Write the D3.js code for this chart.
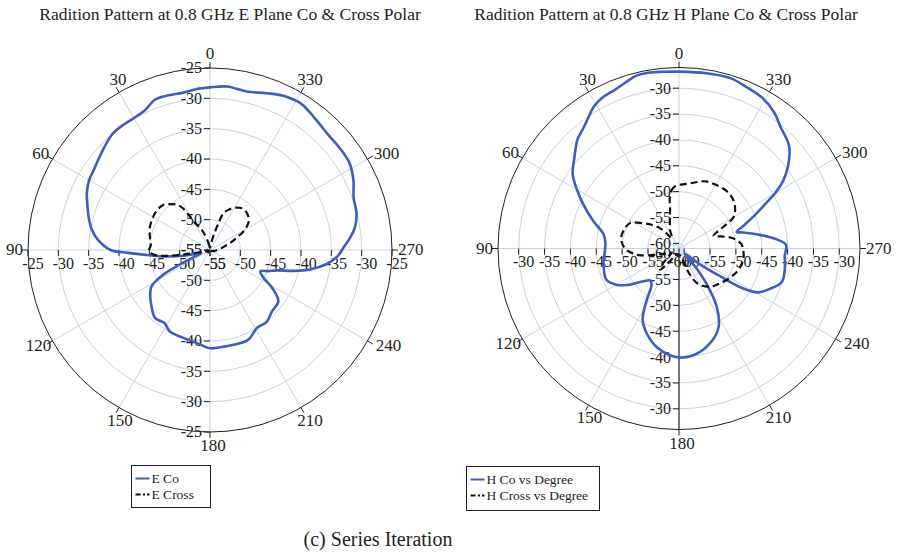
<!DOCTYPE html>
<html><head><meta charset="utf-8">
<script src="https://cdn.jsdelivr.net/npm/d3@7"></script>
<style>
body{margin:0;background:#fff}
svg{display:block}
text{font-family:"Liberation Serif","Times New Roman",serif;fill:#231f20}
</style>
</head><body>
<svg id="c" width="901" height="555"></svg>
<script>
// ---------- data ----------
const angleLabels = [0,30,60,90,120,150,180,210,240,270,300,330];
const eRadialTicks = [-25,-30,-35,-40,-45,-50,-55];
const hRadialTicks = [-30,-35,-40,-45,-50,-55,-60];

const eCoDeg = [0,5,10,15,20,25,30,35,40,45,50,55,60,65,70,75,80,85,90,92,95,98,102,106,110,113,116,118,122,128,134,141,148,154,161,172,180,187,194,203,211,218,225,233,238,243,247,250,253,256,259,263,267,271,275,279,284,290,296,302,308,314,321,328,334,340,347,354];
const eCoDb = [-28.2,-28.4,-28.7,-28.6,-28.6,-29.6,-29.9,-29.9,-30.0,-30.6,-31.2,-31.7,-32.0,-32.6,-33.5,-34.3,-35.2,-36.5,-38.6,-41.5,-45.0,-47.5,-50.5,-52.8,-53.5,-52.5,-49.0,-46.0,-43.6,-42.5,-41.6,-40.6,-40.8,-40.0,-39.9,-39.5,-38.8,-38.9,-38.9,-38.9,-40.0,-39.9,-40.6,-40.9,-42.7,-45.2,-46.0,-44.8,-43.5,-40.8,-38.2,-35.7,-34.0,-33.0,-31.8,-30.8,-30.1,-29.8,-28.7,-27.9,-27.8,-27.8,-27.3,-26.6,-26.8,-27.5,-28.2,-27.9];

const eCrDeg = [0,8,14,19,23,28,31,33,36,41,46,51,56,62,69,75,80,86,91,95,97.5,99.5,102,108,125,140,160,180,200,220,240,255,270,280,285,290,294,299,305,310,315,320,325,331,336,340,342,345,350,355];
const eCrDb = [-54.6,-54.3,-53.5,-52.3,-51.2,-50.2,-48.5,-46.8,-45.8,-45.0,-44.3,-44.1,-44.1,-44.2,-44.4,-44.7,-45.0,-45.2,-44.9,-45.8,-47.5,-50.5,-53.0,-54.3,-54.7,-54.5,-54.8,-54.6,-54.7,-54.5,-54.7,-54.3,-53.8,-53.0,-52.4,-51.3,-50.4,-48.7,-47.3,-46.7,-46.4,-46.3,-46.5,-47.1,-47.8,-48.6,-50.0,-52.0,-53.8,-54.4];

const hCoDeg = [0,5,10,14,18,22,27,31,35,39,43,49,55,60,65,72,79,85,91,98,104,113,120,125,129,134,138,141,144,148,153,159,167,175,182,190,200,207,213,218,222,226,230,233,236,238,241,246,252,260,266,272,276,280,284,286,289,293,297,300,303,307,313,320,325,331,337,343,351];
const hCoDb = [-26.8,-26.7,-26.5,-26.6,-27.3,-27.9,-28.3,-29.0,-30.3,-31.4,-32.2,-34.2,-35.9,-38.2,-40.5,-43.5,-46.1,-46.7,-46.7,-46.3,-46.0,-45.7,-47.0,-48.7,-50.4,-52.0,-52.7,-52.5,-51.9,-49.2,-45.5,-43.5,-41.5,-40.3,-39.9,-40.4,-42.1,-44.1,-47.6,-52.4,-56.5,-59.5,-59.0,-56.0,-51.5,-46.5,-43.5,-41.8,-40.1,-40.2,-40.5,-40.3,-42.5,-45.5,-48.2,-49.4,-48.0,-45.5,-42.5,-39.5,-37.0,-34.6,-31.9,-30.4,-28.9,-27.7,-27.2,-26.6,-26.7];

const hCrDeg = [0,4,7,10,13,17,21,26,31,36,40,43,49,55,62,68,73,78,83,88,92,96,100,104,108,112,120,128,134,138,142,148,160,175,188,195,199,201,204,208,216,223,230,237,244,250,257,263,269,274,278,282,286,290,293,296,300,306,312,318,324,331,338,344,350,355];
const hCrDb = [-48.7,-49.0,-49.6,-50.8,-53.3,-55.0,-56.1,-57.0,-58.3,-58.6,-57.0,-55.6,-54.0,-52.5,-50.4,-49.9,-49.7,-49.6,-49.8,-50.3,-50.9,-52.0,-53.4,-55.9,-57.5,-58.5,-59.4,-58.2,-56.5,-55.5,-56.8,-59.0,-59.8,-59.6,-59.7,-59.3,-58.3,-56.5,-54.8,-53.3,-51.9,-51.1,-50.6,-49.9,-49.3,-48.8,-48.5,-48.4,-48.6,-48.9,-49.7,-50.8,-52.5,-53.9,-53.2,-51.5,-48.8,-47.6,-46.9,-46.6,-46.6,-46.8,-47.0,-47.6,-48.2,-48.5];

const eTitle = "Radition Pattern at 0.8 GHz E Plane Co & Cross Polar";
const hTitle = "Radition Pattern at 0.8 GHz H Plane Co & Cross Polar";
const eLegend = ["E Co","E Cross"];
const hLegend = ["H Co vs Degree","H Cross vs Degree"];
const caption = "(c) Series Iteration";

// ---------- style ----------
const BLUE = "#3d5ebf", GRID = "#c6d3e4", DARK = "#231f20";
const svg = d3.select("#c");
const toRad = d => d*Math.PI/180;

function labelPos(a, R){
  const t = R + 6, x = -t*Math.sin(toRad(a)), y = -t*Math.cos(toRad(a));
  switch(a){
    case 0:   return {x:x,   y:y-3,  anchor:"middle"};
    case 30:  return {x:x+2, y:y-2,  anchor:"middle"};
    case 330: return {x:x+6, y:y-2,  anchor:"middle"};
    case 60:  return {x:x+2, y:y+3,  anchor:"end"};
    case 90:  return {x:x+1, y:y+5,  anchor:"end"};
    case 120: return {x:x+4, y:y+7,  anchor:"end"};
    case 150: return {x:x+4, y:y+13, anchor:"middle"};
    case 180: return {x:x+3, y:y+13, anchor:"middle"};
    case 210: return {x:x+6, y:y+13, anchor:"middle"};
    case 240: return {x:x+3, y:y+7,  anchor:"start"};
    case 270: return {x:x,   y:y+5,  anchor:"start"};
    default:  return {x:x+1, y:y+3,  anchor:"start"};
  }
}

function drawChart(cfg){
  const g = svg.append("g").attr("transform", `translate(${cfg.cx},${cfg.cy})`);
  const r = d3.scaleLinear().domain(cfg.domain).range([0, cfg.R]);

  // grid rings
  g.selectAll("circle.ring").data(cfg.ticks.filter(t => r(t) > 1 && r(t) < cfg.R - 1))
    .join("circle").attr("class","ring").attr("r", d => r(d))
    .attr("fill","none").attr("stroke",GRID).attr("stroke-width",1);
  // spokes
  g.selectAll("line.spoke").data(angleLabels).join("line").attr("class","spoke")
    .attr("x1",0).attr("y1",0)
    .attr("x2", d => -cfg.R*Math.sin(toRad(d)))
    .attr("y2", d => -cfg.R*Math.cos(toRad(d)))
    .attr("stroke",GRID).attr("stroke-width",1);
  if (cfg.darkLower){
    g.append("line").attr("x1",0).attr("y1",0).attr("x2",0).attr("y2",cfg.R)
      .attr("stroke","#1e2a4a").attr("stroke-width",1.2);
  }
  // outer circle
  g.append("circle").attr("r",cfg.R).attr("fill","none").attr("stroke",DARK).attr("stroke-width",1);

  // angle ticks and labels
  g.selectAll("line.atick").data(angleLabels).join("line").attr("class","atick")
    .attr("x1", d => -cfg.R*Math.sin(toRad(d))).attr("y1", d => -cfg.R*Math.cos(toRad(d)))
    .attr("x2", d => -(cfg.R+6)*Math.sin(toRad(d))).attr("y2", d => -(cfg.R+6)*Math.cos(toRad(d)))
    .attr("stroke",DARK).attr("stroke-width",1);
  g.selectAll("text.alab").data(angleLabels).join("text").attr("class","alab")
    .each(function(d){
      const p = labelPos(d, cfg.R);
      d3.select(this).attr("x",p.x).attr("y",p.y).attr("text-anchor",p.anchor);
    })
    .attr("font-size",17).text(d => d);

  // radial tick labels along the vertical axis (top & bottom)
  const vt = [];
  cfg.ticks.forEach(t => { vt.push({t, s:-1}); vt.push({t, s:1}); });
  g.selectAll("line.vtick").data(vt).join("line").attr("class","vtick")
    .attr("x1",-6).attr("x2",0).attr("y1", d => d.s*r(d.t)).attr("y2", d => d.s*r(d.t))
    .attr("stroke",DARK).attr("stroke-width",1);
  g.selectAll("text.vlab").data(vt).join("text").attr("class","vlab")
    .attr("x",-8).attr("y", d => d.s*r(d.t)).attr("dy","0.34em")
    .attr("text-anchor","end").attr("font-size",16).text(d => d.t);

  // radial tick labels along the horizontal axis (left & right)
  g.selectAll("line.htick").data(vt).join("line").attr("class","htick")
    .attr("x1", d => d.s*r(d.t)).attr("x2", d => d.s*r(d.t)).attr("y1",0).attr("y2",6)
    .attr("stroke",DARK).attr("stroke-width",1);
  g.selectAll("text.hlab").data(vt).join("text").attr("class","hlab")
    .attr("x", d => d.s*r(d.t) + 5).attr("y",18.5)
    .attr("text-anchor","middle").attr("font-size",16).text(d => d.t);

  // series
  const line = d3.lineRadial()
    .angle(d => -toRad(d[0]))
    .radius(d => r(d[1]))
    .curve(d3.curveCatmullRomClosed.alpha(0.5));
  cfg.series.forEach(s => {
    const pts = s.deg.map((a,i) => [a, s.db[i]]);
    g.append("path").attr("d", line(pts)).attr("fill","none")
      .attr("stroke", s.color).attr("stroke-width", s.width)
      .attr("stroke-dasharray", s.dash || null)
      .attr("stroke-linejoin","round");
  });

  // title
  svg.append("text").attr("x",cfg.titleX).attr("y",19.5).attr("text-anchor","middle")
    .attr("font-size",17.5).text(cfg.title);

  // legend
  const L = cfg.legend;
  const lg = svg.append("g").attr("transform",`translate(${L.x},${L.y})`);
  lg.append("rect").attr("x",0).attr("y",0).attr("width",L.w).attr("height",L.h)
    .attr("fill","#fff").attr("stroke",DARK).attr("stroke-width",1);
  cfg.series.forEach((s,i) => {
    const yy = 13 + i*16;
    lg.append("line").attr("x1",4).attr("x2",18).attr("y1",yy).attr("y2",yy)
      .attr("stroke",s.color).attr("stroke-width",2).attr("stroke-dasharray", s.dash ? "5,2.5,2,2" : null);
    lg.append("text").attr("x",20).attr("y",yy+4.5).attr("font-size",13.5).text(L.labels[i]);
  });
}

drawChart({
  cx:210, cy:250, R:182, domain:[-55,-25], ticks:eRadialTicks,
  title:eTitle, titleX:230, darkLower:false,
  series:[
    {deg:eCoDeg, db:eCoDb, color:BLUE, width:2.6},
    {deg:eCrDeg, db:eCrDb, color:"#111", width:2.2, dash:"7,4"}
  ],
  legend:{x:131.5, y:465.5, w:79, h:42, labels:eLegend}
});
drawChart({
  cx:679, cy:248.5, R:181, domain:[-61,-26], ticks:hRadialTicks,
  title:hTitle, titleX:666, darkLower:true,
  series:[
    {deg:hCoDeg, db:hCoDb, color:BLUE, width:2.6},
    {deg:hCrDeg, db:hCrDb, color:"#111", width:2.2, dash:"7,4"}
  ],
  legend:{x:466.5, y:466.5, w:133, h:44, labels:hLegend}
});

svg.append("text").attr("x",378).attr("y",546).attr("text-anchor","middle")
  .attr("font-size",20).text(caption);
</script>
</body></html>
